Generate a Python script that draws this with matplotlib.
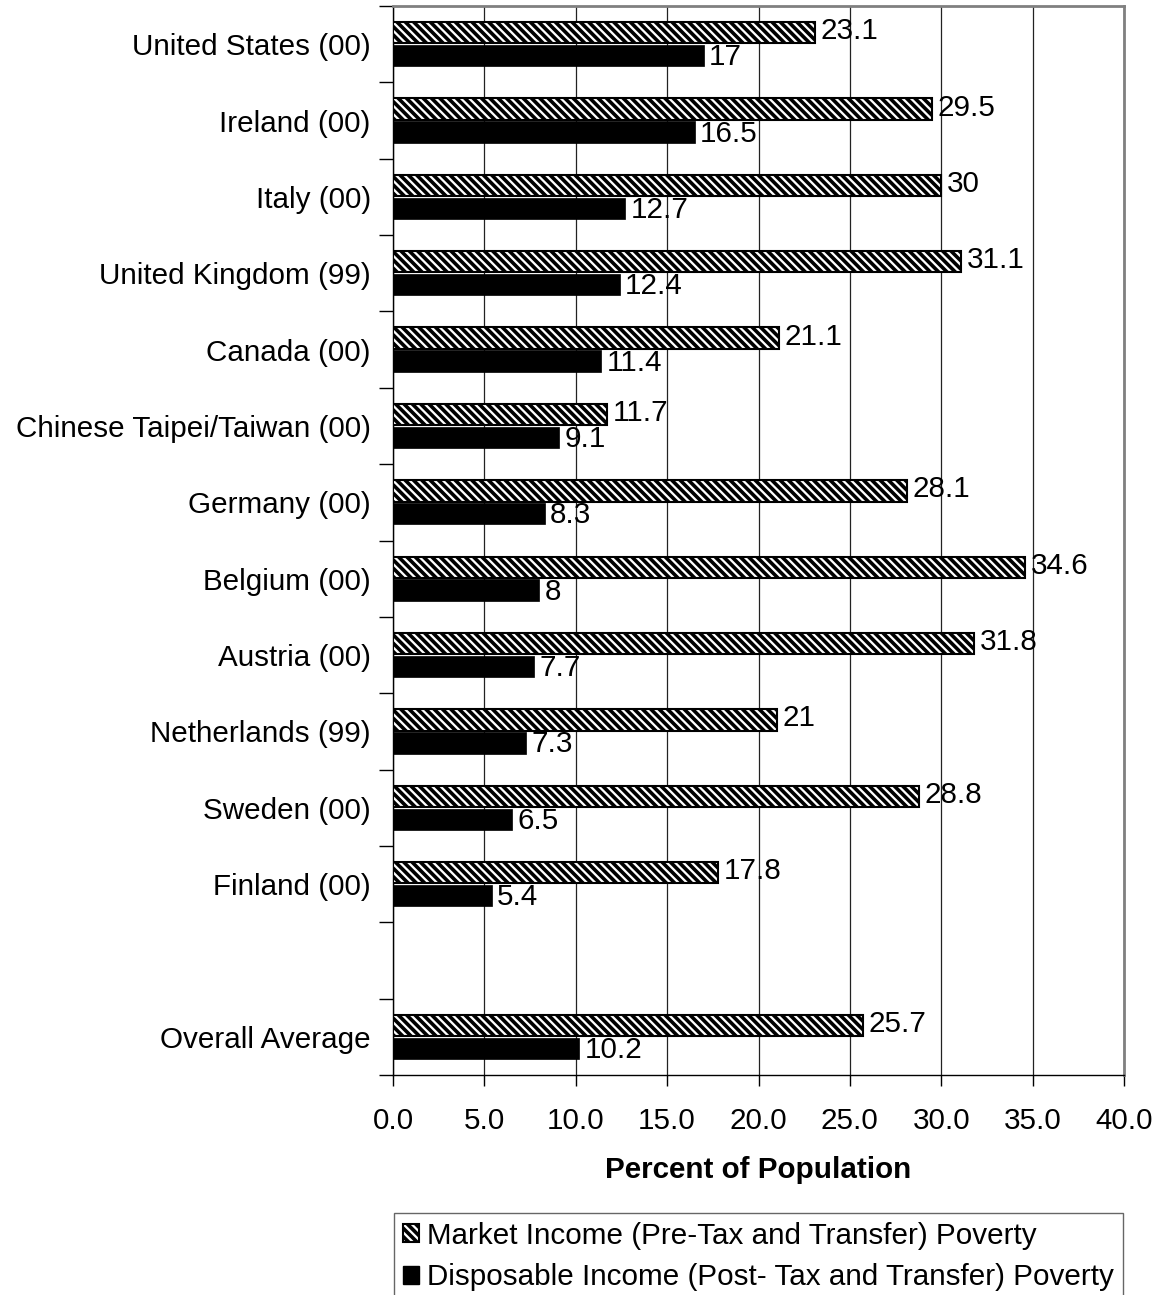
import matplotlib
matplotlib.use("Agg")
import matplotlib.pyplot as plt
from matplotlib.patches import Patch

plt.rcParams["font.family"] = ["Liberation Sans", "DejaVu Sans"]
plt.rcParams["hatch.linewidth"] = 2.6
plt.rcParams["hatch.color"] = "black"

countries = [
    "United States (00)", "Ireland (00)", "Italy (00)", "United Kingdom (99)",
    "Canada (00)", "Chinese Taipei/Taiwan (00)", "Germany (00)", "Belgium (00)",
    "Austria (00)", "Netherlands (99)", "Sweden (00)", "Finland (00)",
    "", "Overall Average",
]
market = [23.1, 29.5, 30, 31.1, 21.1, 11.7, 28.1, 34.6, 31.8, 21, 28.8, 17.8, None, 25.7]
disposable = [17, 16.5, 12.7, 12.4, 11.4, 9.1, 8.3, 8, 7.7, 7.3, 6.5, 5.4, None, 10.2]
x_ticks = [0, 5, 10, 15, 20, 25, 30, 35, 40]
x_tick_labels = ["0.0", "5.0", "10.0", "15.0", "20.0", "25.0", "30.0", "35.0", "40.0"]
series_names = [
    "Market Income (Pre-Tax and Transfer) Poverty",
    "Disposable Income (Post- Tax and Transfer) Poverty",
]

FS = 21.3
fig = plt.figure(figsize=(11.58, 12.95), dpi=100)
ax = fig.add_axes([393 / 1158, 220 / 1295, (1124 - 393) / 1158, (1289 - 220) / 1295])

bar_h = 0.28
off = 0.15
for i, (m, d) in enumerate(zip(market, disposable)):
    if m is None:
        continue
    ax.barh(i - off, m, height=bar_h, facecolor="white", edgecolor="black",
            hatch="\\\\\\\\", linewidth=1.5, zorder=3)
    ax.barh(i + off, d, height=bar_h, facecolor="black", edgecolor="black",
            linewidth=0.5, zorder=3)
    ax.text(m + 0.3, i - off - 0.02, f"{m:g}", va="center", ha="left", fontsize=FS, zorder=4)
    ax.text(d + 0.3, i + off + 0.02, f"{d:g}", va="center", ha="left", fontsize=FS, zorder=4)

n = len(countries)
ax.set_xlim(0, 40)
ax.set_ylim(n - 0.5, -0.5)

# category labels at slot centres, tick marks at slot boundaries
ax.set_yticks([k - 0.5 for k in range(n + 1)])
ax.set_yticklabels([])
ax.tick_params(axis="y", which="major", length=10, width=1, direction="out")
ax.set_yticks(list(range(n)), minor=True)
ax.set_yticklabels(countries, minor=True, fontsize=FS)
ax.tick_params(axis="y", which="minor", length=0, pad=16)

ax.set_xticks(x_ticks)
ax.set_xticklabels(x_tick_labels, fontsize=FS)
ax.tick_params(axis="x", length=8, width=1, direction="out", pad=15)

ax.grid(axis="x", color="#222222", linewidth=0.9, zorder=0)
ax.set_axisbelow(True)

for side in ("top", "right"):
    ax.spines[side].set_color("#808080")
    ax.spines[side].set_linewidth(2)
for side in ("left", "bottom"):
    ax.spines[side].set_color("black")
    ax.spines[side].set_linewidth(1)

ax.set_xlabel("Percent of Population", fontsize=FS, fontweight="bold", labelpad=15)

handles = [
    Patch(facecolor="white", edgecolor="black", hatch="\\\\\\\\", linewidth=1.5),
    Patch(facecolor="black", edgecolor="black"),
]
leg = fig.legend(handles, series_names, loc="upper left",
                 bbox_to_anchor=(394 / 1158, 1 - 1213 / 1295),
                 fontsize=FS, frameon=True, fancybox=False, shadow=False,
                 handlelength=0.55, handleheight=0.55, handletextpad=0.27,
                 labelspacing=0.45, borderpad=0.3, borderaxespad=0)
leg.get_frame().set_edgecolor("#404040")
leg.get_frame().set_linewidth(1)

fig.savefig("out.png", dpi=100)
